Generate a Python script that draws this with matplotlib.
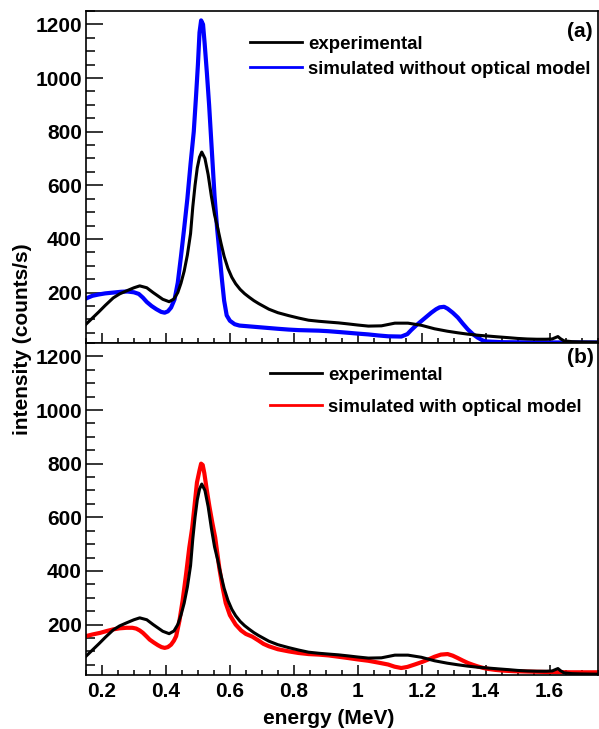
import numpy as np
import matplotlib.pyplot as plt
from matplotlib.ticker import MultipleLocator, FuncFormatter

plt.rcParams['font.family'] = ['Liberation Sans', 'DejaVu Sans']
plt.rcParams['font.weight'] = 'bold'

# experimental spectrum (same in both panels)
exp_x = [0.15, 0.17, 0.19, 0.21, 0.235, 0.255, 0.276, 0.30, 0.318, 0.34, 0.36,
         0.39, 0.41, 0.425, 0.437, 0.447, 0.457, 0.467, 0.477, 0.484, 0.491,
         0.498, 0.505, 0.512, 0.522, 0.532, 0.542, 0.552, 0.562, 0.572, 0.582,
         0.594, 0.606, 0.618, 0.632, 0.646, 0.66, 0.675, 0.69, 0.722, 0.75,
         0.784, 0.815, 0.846, 0.878, 0.908, 0.94, 0.971, 1.0, 1.033, 1.074,
         1.116, 1.157, 1.199, 1.24, 1.28, 1.313, 1.344, 1.375, 1.406, 1.437,
         1.47, 1.50, 1.53, 1.56, 1.59, 1.608, 1.618, 1.626, 1.634, 1.645,
         1.67, 1.70, 1.75]
exp_y = [82, 105, 128, 152, 180, 195, 206, 218, 225, 218, 200,
         175, 166, 176, 200, 235, 280, 340, 420, 520, 600,
         665, 705, 724, 700, 640, 560, 490, 440, 385, 335,
         290, 257, 233, 212, 196, 183, 170, 159, 138, 125,
         114, 105, 97, 93, 90, 87, 83, 79, 75, 76,
         86, 86, 78, 65, 56, 50, 45, 41, 38, 35,
         32, 29, 27, 26, 26, 27, 32, 36, 28, 20,
         17, 16, 15]

# simulation without optical model (a)
nopt_x = [0.15, 0.17, 0.19, 0.21, 0.235, 0.26, 0.28, 0.30, 0.315, 0.328, 0.34,
          0.355, 0.37, 0.385, 0.396, 0.406, 0.416, 0.427, 0.437, 0.447, 0.457,
          0.467, 0.477, 0.487, 0.494, 0.50, 0.505, 0.51, 0.516, 0.521, 0.528,
          0.535, 0.543, 0.552, 0.56, 0.568, 0.575, 0.582, 0.59, 0.60, 0.615,
          0.63, 0.66, 0.69, 0.72, 0.75, 0.784, 0.815, 0.846, 0.878, 0.908,
          0.94, 0.971, 1.0, 1.033, 1.065, 1.095, 1.136, 1.155, 1.167, 1.183,
          1.199, 1.215, 1.23, 1.245, 1.256, 1.27, 1.281, 1.297, 1.313, 1.328,
          1.344, 1.36, 1.375, 1.39, 1.40, 1.45, 1.55, 1.65, 1.75]
nopt_y = [178, 188, 193, 197, 200, 203, 204, 201, 195, 181, 165,
          150, 138, 128, 125, 130, 144, 175, 237, 335, 440,
          550, 680, 800, 930, 1050, 1170, 1215, 1200, 1130, 1020,
          900, 740, 560, 440, 340, 250, 170, 115, 95, 82,
          77, 74, 71, 68, 65, 62, 60, 59, 58, 56,
          53, 50, 47, 44, 40, 37, 36, 45, 60, 78,
          94, 110, 125, 138, 145, 147, 140, 125, 107, 85,
          63, 45, 32, 22, 18, 15, 14, 14, 14]

# simulation with optical model (b)
opt_x = [0.15, 0.17, 0.194, 0.215, 0.235, 0.255, 0.277, 0.295, 0.307, 0.318,
         0.328, 0.34, 0.349, 0.362, 0.375, 0.386, 0.396, 0.406, 0.416, 0.425,
         0.432, 0.442, 0.452, 0.463, 0.473, 0.482, 0.49, 0.497, 0.505, 0.51,
         0.515, 0.52, 0.528, 0.536, 0.545, 0.554, 0.567, 0.577, 0.587, 0.60,
         0.618, 0.635, 0.65, 0.67, 0.69, 0.705, 0.722, 0.75, 0.784, 0.815,
         0.846, 0.878, 0.908, 0.94, 0.971, 1.0, 1.033, 1.065, 1.095, 1.115,
         1.136, 1.155, 1.178, 1.2, 1.219, 1.24, 1.26, 1.281, 1.297, 1.313,
         1.328, 1.344, 1.36, 1.375, 1.39, 1.406, 1.43, 1.458, 1.49, 1.52,
         1.56, 1.6, 1.665, 1.75]
opt_y = [157, 163, 169, 176, 182, 186, 188, 188, 185, 178,
         169, 155, 144, 133, 123, 116, 113, 116, 125, 140,
         157, 213, 288, 388, 487, 560, 650, 730, 775, 800,
         795, 765, 700, 640, 580, 525, 410, 340, 280, 235,
         200, 178, 165, 155, 140, 128, 119, 108, 100, 94,
         90, 88, 85, 80, 75, 70, 65, 58, 51, 43,
         38, 42, 51, 60, 69, 80, 88, 90, 84, 75,
         66, 57, 50, 44, 39, 35, 31, 28, 26, 25,
         24, 23, 22, 22]

fig = plt.figure(figsize=(5.99, 7.29), dpi=100)
ax1 = fig.add_axes([0.1436, 0.5295, 0.854, 0.4554])
ax2 = fig.add_axes([0.1436, 0.0741, 0.854, 0.4554])

l_sim_a, = ax1.plot(nopt_x, nopt_y, color='#0000ff', lw=3)
l_exp_a, = ax1.plot(exp_x, exp_y, color='black', lw=2.2)
l_sim_b, = ax2.plot(opt_x, opt_y, color='#ff0000', lw=3)
l_exp_b, = ax2.plot(exp_x, exp_y, color='black', lw=2.2)

for ax in (ax1, ax2):
    ax.set_xlim(0.15, 1.75)
    ax.set_ylim(12, 1250)
    ax.xaxis.set_major_locator(MultipleLocator(0.2))
    ax.xaxis.set_minor_locator(MultipleLocator(0.05))
    ax.yaxis.set_major_locator(MultipleLocator(200))
    ax.yaxis.set_minor_locator(MultipleLocator(50))
    ax.tick_params(which='both', direction='in', top=False, right=False,
                   width=1.1, labelsize=15)
    ax.tick_params(axis='y', which='major', length=12, pad=3)
    ax.tick_params(axis='y', which='minor', length=6.5)
    ax.tick_params(axis='x', which='major', length=7, pad=5)
    ax.tick_params(axis='x', which='minor', length=3.6)
    for s in ax.spines.values():
        s.set_linewidth(1.2)

ax1.tick_params(axis='x', labelbottom=False)
ax2.xaxis.set_major_formatter(FuncFormatter(lambda v, p: '%g' % round(v, 2)))

leg_a = ax1.legend([l_exp_a, l_sim_a], ['experimental', 'simulated without optical model'],
                   loc='upper left', bbox_to_anchor=(0.3206, 0.925), frameon=False,
                   borderpad=0, borderaxespad=0, handlelength=2.8, handletextpad=0.32,
                   labelspacing=0.42, prop={'size': 13.4, 'weight': 'bold'})
for h in leg_a.get_lines():
    h.set_linewidth(2)
leg_b = ax2.legend([l_exp_b, l_sim_b], ['experimental', 'simulated with optical model'],
                   loc='upper left', bbox_to_anchor=(0.36, 0.928), frameon=False,
                   borderpad=0, borderaxespad=0, handlelength=2.8, handletextpad=0.32,
                   labelspacing=0.8, prop={'size': 13.4, 'weight': 'bold'})
for h in leg_b.get_lines():
    h.set_linewidth(2)

ax1.text(0.991, 0.937, '(a)', transform=ax1.transAxes, ha='right', va='center',
         fontsize=15, fontweight='bold')
ax2.text(0.993, 0.955, '(b)', transform=ax2.transAxes, ha='right', va='center',
         fontsize=15, fontweight='bold')

ax2.set_xlabel('energy (MeV)', fontsize=15, fontweight='bold')
ax2.xaxis.set_label_coords(0.475, -0.13)
ax2.xaxis.label.set_va('center')
fig.text(0.037, 0.535, 'intensity (counts/s)', rotation=90, ha='center', va='center',
         fontsize=15, fontweight='bold')

fig.savefig('out.png', dpi=100)
